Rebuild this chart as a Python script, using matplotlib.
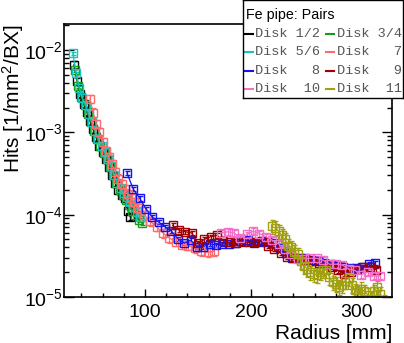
import matplotlib
matplotlib.use("Agg")
import matplotlib.pyplot as plt
from matplotlib.ticker import LogLocator, MultipleLocator, LogFormatterSciNotation, NullFormatter
from matplotlib.lines import Line2D

plt.rcParams['font.family'] = ['Liberation Sans', 'DejaVu Sans']
plt.rcParams['mathtext.fontset'] = 'custom'
plt.rcParams['mathtext.rm'] = 'Liberation Sans'
plt.rcParams['mathtext.it'] = 'Liberation Sans:italic'
plt.rcParams['mathtext.default'] = 'regular'

# --- data (radius in mm, hits per mm^2 per BX) ---
r_12 = [33, 36, 39, 42, 45, 48, 51, 54, 57, 60, 63, 66, 69, 72, 75, 78, 81, 84, 86]
v_12 = [6.6e-3, 4.2e-3, 2.95e-3, 2.24e-3, 1.78e-3, 1.38e-3, 1.1e-3, 8.7e-4, 6.9e-4, 5.75e-4,
        4.7e-4, 3.8e-4, 3.0e-4, 2.4e-4, 2.0e-4, 1.74e-4, 1.58e-4, 1.12e-4, 9.5e-5]

r_34 = [34, 37, 40, 43, 46, 49, 52, 55, 58, 61, 64, 67, 70, 73, 76, 79, 82, 85, 88, 91, 94, 97]
v_34 = [5.75e-3, 3.7e-3, 2.7e-3, 2.14e-3, 1.66e-3, 1.32e-3, 1.05e-3, 8.3e-4, 6.8e-4, 5.6e-4,
        4.7e-4, 3.8e-4, 3.0e-4, 2.4e-4, 2.0e-4, 1.74e-4, 1.51e-4, 1.32e-4, 1.12e-4, 1.0e-4,
        8.7e-5, 7.9e-5]

r_56 = [32, 35, 38, 41, 44, 47, 50, 53, 56, 59, 62, 65, 68, 71, 74, 77, 80, 83, 86, 89, 92, 95]
v_56 = [9.1e-3, 5.2e-3, 3.5e-3, 2.6e-3, 2.15e-3, 1.66e-3, 1.32e-3, 1.05e-3, 8.3e-4, 6.9e-4,
        5.75e-4, 4.8e-4, 3.9e-4, 3.0e-4, 2.45e-4, 2.1e-4, 1.82e-4, 1.62e-4, 1.41e-4, 1.23e-4,
        1.07e-4, 9.3e-5]

r_7 = [48, 51, 54, 57, 60, 63, 66, 69, 72, 75, 78, 81, 84, 87, 90, 93, 96, 99,
       105, 111, 117, 123, 129, 135, 141, 147, 153, 159, 165]
v_7 = [2.57e-3, 1.74e-3, 1.26e-3, 1.0e-3, 7.6e-4, 6.0e-4, 5.0e-4, 4.1e-4, 3.3e-4, 2.75e-4,
       2.35e-4, 2.05e-4, 1.78e-4, 1.58e-4, 1.41e-4, 1.2e-4, 1.1e-4, 1.0e-4,
       8.3e-5, 7.1e-5, 6.0e-5, 5.2e-5, 4.7e-5, 4.3e-5, 4.2e-5, 3.9e-5, 3.6e-5, 3.5e-5, 3.6e-5]

r_8 = [83, 89, 95, 101, 107, 113, 119, 125, 131, 137, 143, 149, 155, 161, 167, 173, 179,
       185, 191, 197, 203, 209, 215, 221, 227, 233, 239, 245, 251, 257, 263, 269, 275, 281,
       287, 293, 299, 305, 311, 317]
v_8 = [3.2e-4, 2.04e-4, 1.58e-4, 1.17e-4, 9.3e-5, 8.1e-5, 7.1e-5, 6.3e-5, 5.1e-5, 4.5e-5,
       4.9e-5, 4.1e-5, 4.1e-5, 4.4e-5, 4.3e-5, 4.4e-5, 4.4e-5, 4.5e-5, 4.8e-5, 4.9e-5,
       4.5e-5, 4.7e-5, 4.6e-5, 4.5e-5, 3.9e-5, 3.4e-5, 2.95e-5, 3.0e-5, 3.0e-5, 2.8e-5,
       2.7e-5, 2.6e-5, 2.5e-5, 2.4e-5, 2.3e-5, 2.25e-5, 2.25e-5, 2.3e-5, 2.5e-5, 2.6e-5]

r_9 = [126, 132, 138, 144, 150, 156, 162, 168, 174, 180, 186, 192, 198, 204, 210, 216, 222,
       228, 234, 240, 246, 252, 258, 264, 270, 276, 282, 288, 294, 300, 306, 312, 318]
v_9 = [7.4e-5, 6.5e-5, 6.2e-5, 6.0e-5, 4.5e-5, 5.0e-5, 5.4e-5, 5.6e-5, 4.8e-5, 4.6e-5,
       4.5e-5, 4.7e-5, 4.6e-5, 4.7e-5, 4.8e-5, 4.2e-5, 3.8e-5, 3.4e-5, 3.1e-5, 2.95e-5,
       2.9e-5, 2.8e-5, 2.7e-5, 2.6e-5, 2.5e-5, 2.3e-5, 2.1e-5, 1.9e-5, 2.0e-5, 2.2e-5,
       2.3e-5, 2.3e-5, 2.15e-5]

r_10 = [172, 178, 184, 190, 196, 202, 208, 214, 220, 226, 232, 238, 244, 250, 256, 262, 268,
        274, 280, 286, 292, 298, 304, 310, 316, 322]
v_10 = [6.0e-5, 6.2e-5, 6.0e-5, 5.2e-5, 5.75e-5, 6.3e-5, 5.9e-5, 5.4e-5, 4.9e-5, 4.4e-5,
        3.8e-5, 3.3e-5, 2.9e-5, 2.9e-5, 2.95e-5, 2.95e-5, 2.8e-5, 2.5e-5, 2.5e-5, 2.45e-5,
        2.2e-5, 2.1e-5, 1.86e-5, 2.0e-5, 1.8e-5, 1.8e-5]

r_11 = [220, 223, 226, 229, 232, 235, 238, 241, 244, 247, 250, 253, 256, 259, 262, 265, 268,
        271, 274, 277, 280, 283, 286, 289, 292, 295, 298, 301, 304, 307, 310, 313, 316, 319,
        322, 325]
v_11 = [7.2e-5, 6.9e-5, 6.3e-5, 5.6e-5, 5.0e-5, 4.2e-5, 4.0e-5, 3.55e-5, 3.3e-5, 2.75e-5,
        2.4e-5, 2.2e-5, 2.0e-5, 1.9e-5, 1.86e-5, 2.0e-5, 2.1e-5, 2.15e-5, 1.74e-5, 1.51e-5,
        1.45e-5, 1.32e-5, 1.41e-5, 1.58e-5, 1.7e-5, 1.41e-5, 1.2e-5, 1.15e-5, 1.26e-5, 1.17e-5,
        1.07e-5, 9.5e-6, 1.17e-5, 1.32e-5, 1.1e-5, 8.9e-6]

labels = ['Disk 1/2', 'Disk 3/4', 'Disk 5/6', 'Disk   7',
          'Disk   8', 'Disk   9', 'Disk  10', 'Disk  11']
# relative statistical uncertainty per disk
rel_err = [0.10, 0.06, 0.05, 0.12, 0.06, 0.06, 0.08, 0.20]

series = [(r_12, v_12), (r_34, v_34), (r_56, v_56), (r_7, v_7),
          (r_8, v_8), (r_9, v_9), (r_10, v_10), (r_11, v_11)]
colors = ['#000000', '#1a9a1a', '#10c8c0', '#ff6a6a',
          '#1414f0', '#a00000', '#f470c8', '#a0a010']

fig = plt.figure(figsize=(4.04, 3.43), dpi=100)
ax = fig.add_axes([64 / 404, 46 / 343, 328 / 404, 273 / 343])

for (r, v), c, e in zip(series, colors, rel_err):
    ax.errorbar(r, v, yerr=[x * e for x in v], fmt='s-', color=c, mfc='none', mec=c,
                ms=5.3, mew=1.0, lw=0.9, elinewidth=0.9, capsize=1.8, capthick=0.9)

ax.set_yscale('log')
ax.set_xlim(23.6, 333)
ax.set_ylim(1e-5, 2.07e-2)

ax.xaxis.set_major_locator(MultipleLocator(100))
ax.xaxis.set_minor_locator(MultipleLocator(20))
ax.yaxis.set_major_locator(LogLocator(base=10))
ax.yaxis.set_minor_locator(LogLocator(base=10, subs=range(2, 10)))
ax.yaxis.set_major_formatter(LogFormatterSciNotation())
ax.yaxis.set_minor_formatter(NullFormatter())

ax.tick_params(axis='x', which='both', direction='in', top=False, labelsize=14, pad=5)
ax.tick_params(axis='x', which='major', length=6, width=1)
ax.tick_params(axis='x', which='minor', length=3, width=1)
ax.tick_params(axis='y', which='both', direction='in', right=True, labelsize=14, pad=1)
ax.tick_params(axis='y', which='major', length=7, width=1)
ax.tick_params(axis='y', which='minor', length=3.5, width=1)
for s in ax.spines.values():
    s.set_linewidth(1.2)

ax.set_xlabel('Radius [mm]', fontsize=15, loc='right')
ax.xaxis.set_label_coords(1.0, -0.10)
ax.set_ylabel('Hits [1/mm$^{2}$/BX]', fontsize=15, loc='top')
ax.yaxis.set_label_coords(-0.115, 1.0)

# legend box (ROOT style)
lg = fig.add_axes([243 / 404, 1 - 98 / 343, 160 / 404, 98 / 343])
lg.set_xlim(0, 160)
lg.set_ylim(98, 0)
lg.set_xticks([])
lg.set_yticks([])
for s in lg.spines.values():
    s.set_linewidth(1.0)
lg.text(3, 15, 'Fe pipe: Pairs', fontsize=10.3, va='center', ha='left')
rows = [34, 52, 71, 89]
cols = [(2, 10, 12), (83, 91, 94)]
for i, (lab, c) in enumerate(zip(labels, colors)):
    x0, x1, xt = cols[i % 2]
    y = rows[i // 2]
    lg.add_line(Line2D([x0, x1], [y, y], color=c, lw=1.5))
    lg.text(xt, y, lab, fontsize=9.7, family='Liberation Mono', color='#555555',
            va='center', ha='left')

fig.savefig('out.png', dpi=100)
